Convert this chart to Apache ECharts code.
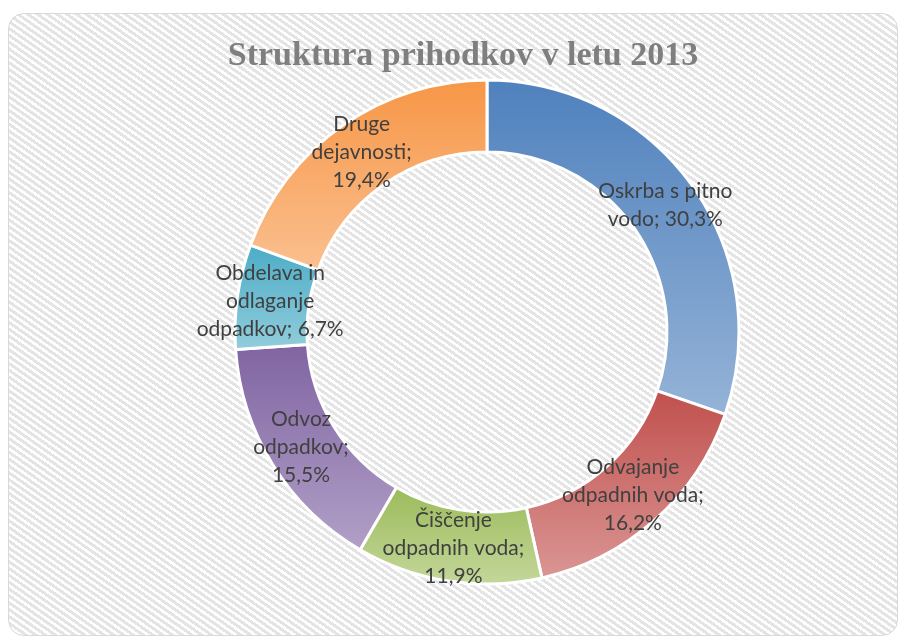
<!DOCTYPE html>
<html>
<head>
<meta charset="utf-8">
<script src="https://cdn.jsdelivr.net/npm/echarts@6/dist/echarts.min.js"></script>
<style>
html,body{margin:0;padding:0;background:#fff;}
#wrap{position:relative;width:901px;height:639px;overflow:hidden;}
#bg{position:absolute;left:8px;top:13px;width:888px;height:621px;border:1.5px solid #d9d9d9;border-radius:16px;
background:repeating-linear-gradient(35deg,#ffffff 0px,#ffffff 2.6px,#e4e4e4 2.6px,#e4e4e4 5.6px);}
#chart{position:absolute;left:0;top:0;width:901px;height:639px;}
</style>
</head>
<body>
<div id="wrap"><div id="bg"></div><div id="chart"></div></div>
<script>
const titleText = 'Struktura prihodkov v letu 2013';
const categories = ['Oskrba s pitno vodo', 'Odvajanje odpadnih voda', 'Čiščenje odpadnih voda', 'Odvoz odpadkov', 'Obdelava in odlaganje odpadkov', 'Druge dejavnosti'];
const values = [30.3, 16.2, 11.9, 15.5, 6.7, 19.4];
const labelNames = ['Oskrba s pitno\nvodo', 'Odvajanje\nodpadnih voda', 'Čiščenje\nodpadnih voda', 'Odvoz\nodpadkov', 'Obdelava in\nodlaganje\nodpadkov', 'Druge\ndejavnosti'];
const valueOnNewLine = [false, true, true, true, false, true];
const darkColors = ['#4f81bd', '#c0504d', '#9bbb59', '#8064a2', '#4bacc6', '#f79646'];
const lightColors = ['#95b3d7', '#da9694', '#c4d79b', '#b1a0c7', '#92cddc', '#fac090'];

const chart = echarts.init(document.getElementById('chart'), null, {renderer: 'canvas'});
const data = categories.map((c, i) => ({
  name: c,
  value: values[i],
  itemStyle: {
    color: new echarts.graphic.LinearGradient(0, 0, 0, 1, [
      {offset: 0, color: darkColors[i]},
      {offset: 1, color: lightColors[i]}
    ])
  }
}));
chart.setOption({
  backgroundColor: 'transparent',
  animation: false,
  title: {
    text: titleText,
    left: 458,
    top: 34,
    textAlign: 'center',
    textStyle: {
      fontFamily: 'Liberation Serif',
      fontWeight: 'bold',
      fontSize: 34,
      color: '#7f7f7f'
    }
  },
  series: [{
    type: 'pie',
    center: [487, 332],
    radius: [180, 252],
    startAngle: 90,
    clockwise: true,
    data: data,
    itemStyle: {borderColor: '#ffffff', borderWidth: 3},
    label: {
      show: true,
      position: 'inside',
      fontFamily: 'Lato',
      fontSize: 21,
      lineHeight: 28,
      color: '#404040',
      formatter: function (p) {
        const i = p.dataIndex;
        const v = values[i].toFixed(1).replace('.', ',') + '%';
        return labelNames[i] + ';' + (valueOnNewLine[i] ? '\n' : ' ') + v;
      }
    },
    labelLine: {show: false},
    emphasis: {disabled: true}
  }]
});
</script>
</body>
</html>
